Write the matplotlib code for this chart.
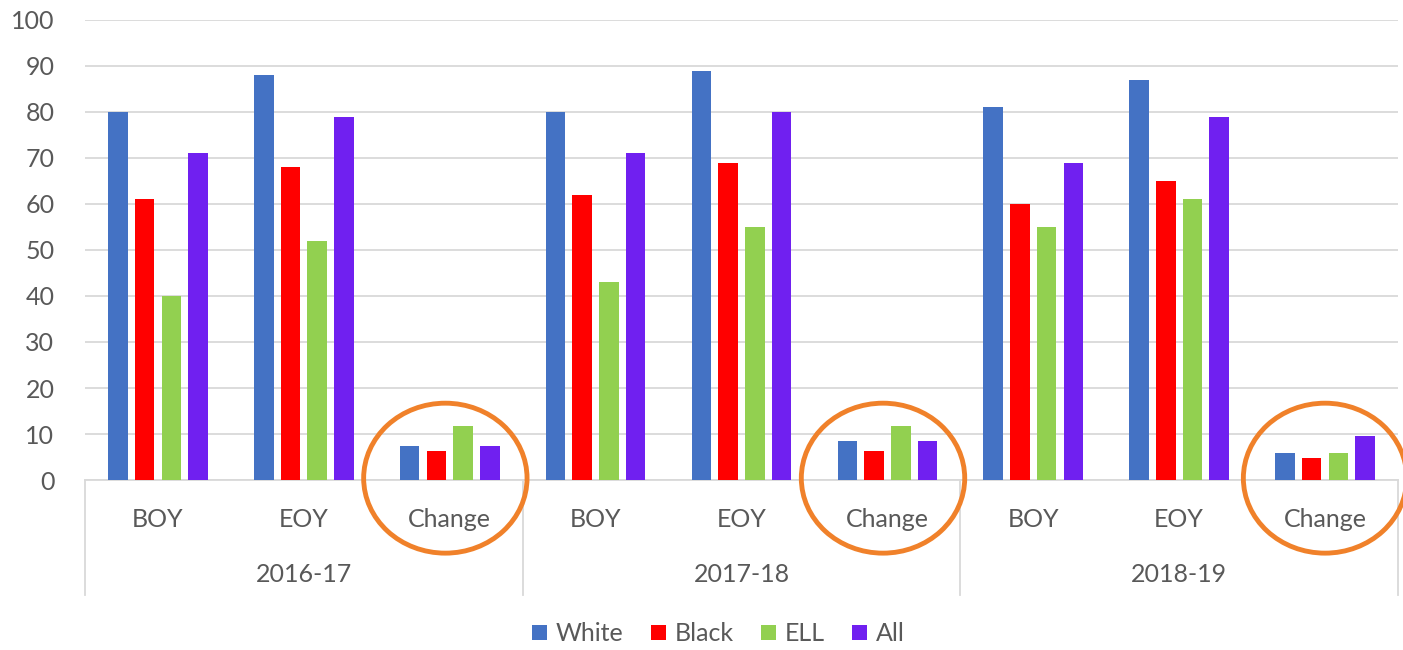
import numpy as np
import matplotlib.pyplot as plt
from matplotlib.patches import Ellipse

plt.rcParams['font.family'] = ['Lato', 'DejaVu Sans']

years = ['2016-17', '2017-18', '2018-19']
periods = ['BOY', 'EOY', 'Change']
series = ['White', 'Black', 'ELL', 'All']
colors = ['#4472C4', '#FF0000', '#92D050', '#7020F0']

white = [80, 88, 7.5, 80, 89, 8.5, 81, 87, 5.9]
black = [61, 68, 6.4, 62, 69, 6.4, 60, 65, 4.8]
ell = [40, 52, 11.7, 43, 55, 11.7, 55, 61, 5.9]
all_students = [71, 79, 7.5, 71, 80, 8.5, 69, 79, 9.6]
values = [white, black, ell, all_students]

grey = '#595959'
fig = plt.figure(figsize=(14.03, 6.5), dpi=100)
ax = fig.add_axes([85 / 1403, 170 / 650, 1313 / 1403, 460 / 650])

n = len(years) * len(periods)
x = np.arange(n) + 0.5
pitch = 0.183
width = 0.134
for i, (name, vals, c) in enumerate(zip(series, values, colors)):
    ax.bar(x + (i - 1.5) * pitch, vals, width, color=c, label=name, zorder=3)

ax.set_xlim(0, n)
ax.set_ylim(0, 100)
ax.set_yticks(range(0, 101, 10))
ax.tick_params(axis='y', length=0, labelsize=18, colors=grey, pad=22)
ax.set_xticks([])
ax.yaxis.grid(True, color='#d9d9d9', linewidth=1.3, zorder=0)
for side in ['top', 'right', 'left']:
    ax.spines[side].set_visible(False)
ax.spines['bottom'].set_color('#d9d9d9')
ax.spines['bottom'].set_linewidth(1.3)

# two-level category labels under the axis
trans = ax.get_xaxis_transform()
for k in range(n):
    ax.text(k + 0.5, -0.085, periods[k % 3], transform=trans, ha='center',
            va='center', fontsize=18, color=grey)
for g, yr in enumerate(years):
    ax.text(g * 3 + 1.5, -0.205, yr, transform=trans, ha='center',
            va='center', fontsize=18, color=grey)
for b in range(0, n + 1, 3):
    ax.plot([b, b], [0, -0.25], transform=trans, color='#d9d9d9',
            linewidth=1.3, clip_on=False)

# highlight the change columns
for cx in [2.47, 5.47, 8.5]:
    ax.add_patch(Ellipse((cx, 0.4), 1.12, 32.6, fill=False,
                         edgecolor='#F0812A', linewidth=3.5, clip_on=False,
                         zorder=5))

fig.legend(loc='center', bbox_to_anchor=(0.512, 0.025), ncol=4, frameon=False,
           fontsize=18, handlelength=0.6, handleheight=0.6,
           handletextpad=0.35, columnspacing=1.1, labelcolor=grey)

fig.savefig('out.png', dpi=100)
